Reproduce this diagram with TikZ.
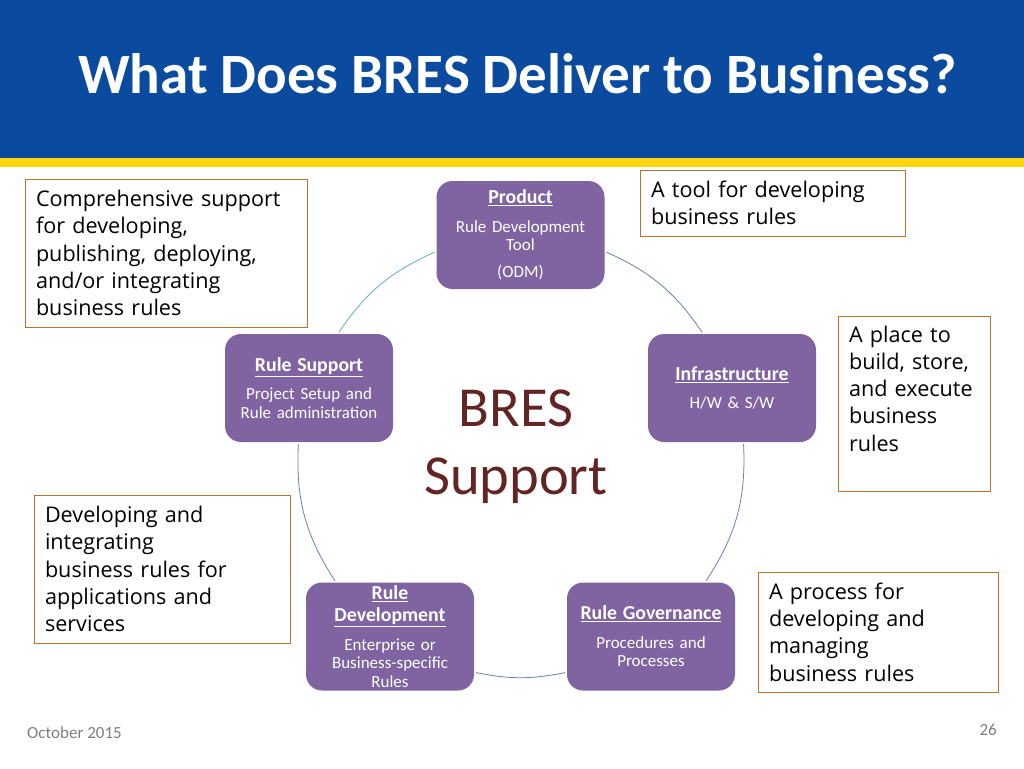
\documentclass[tikz,border=0pt]{standalone}
\usepackage{fontspec}
\setmainfont{Carlito}
\newfontfamily\notefont{Open Sans}
\definecolor{bandblue}{HTML}{0A4A9F}
\definecolor{bandyellow}{HTML}{FFD40F}
\definecolor{stagepurple}{HTML}{8064A2}
\definecolor{noteborder}{HTML}{B9722F}
\definecolor{supportred}{HTML}{632523}
\definecolor{arcblue}{HTML}{6A7FB0}
\definecolor{arcteal}{HTML}{5FAFBF}
\definecolor{footgray}{HTML}{7F7F7F}
\newcommand{\stagehead}[1]{{\fontsize{19.8}{22}\selectfont\bfseries\underline{#1}}}
\tikzset{
    stagebox/.style={rectangle, rounded corners=16pt, fill=stagepurple, text=white, align=center,
        minimum width=168pt, minimum height=108pt, text width=160pt, inner sep=0pt, outer sep=0pt,
        font=\fontsize{17}{18.5}\selectfont},
    notebox/.style={rectangle, draw=noteborder, line width=0.9pt, fill=white, anchor=north west, align=left,
        inner xsep=11pt, inner ysep=6pt, outer sep=0pt, font=\notefont\fontsize{21.6}{27.3}\selectfont},
    cyclearc/.style={arcblue, line width=0.8pt, shorten >=2pt, shorten <=2pt},
}
\begin{document}
\begin{tikzpicture}[x=1pt, y=-1pt]
    \useasboundingbox (0, 0) rectangle (1024, 768);
    % title band
    \fill [bandblue] (0, 0) rectangle (1024, 158);
    \fill [bandyellow] (0, 158) rectangle (1024, 167);
    \node (title) [anchor=base west, text=white, inner sep=0pt, font=\fontsize{57}{62}\selectfont\bfseries]
        at (78, 93) {What Does BRES Deliver to Business?};
    % stages
    \node (product) [stagebox] at (520.5, 235) {\stagehead{Product}\\[10pt] Rule Development\\ Tool\\[8.5pt] (ODM)};
    \node (infra) [stagebox] at (732, 388) {\stagehead{Infrastructure}\\[10pt] H/W \& S/W};
    \node (governance) [stagebox] at (651, 636.5) {\stagehead{Rule Governance}\\[10pt] Procedures and\\ Processes};
    \node (development) [stagebox] at (390, 636.5) {\stagehead{Rule}\\[3.5pt] \stagehead{Development}\\[10pt] Enterprise or\\ Business-specific\\ Rules};
    \node (rulesupport) [stagebox] at (309, 388) {\stagehead{Rule Support}\\[10pt] Project Setup and\\ Rule administration};
    \node (centre) [text=supportred, align=center, inner sep=0pt, font=\fontsize{56.5}{68}\selectfont] at (516, 447) {BRES\\ Support};
    % arcs round the centre
    \foreach \a/\b/\bend in {product.-11/infra.118/16, infra.-78.5/governance.45.5/18,
        governance.203.5/development.-23.5/11.6, development.135/rulesupport.-101.5/18} {
        \draw [cyclearc] (\a) to [bend left=\bend] (\b);
        }
    \draw [cyclearc, arcteal] (rulesupport.62.5) to [bend left=16] (product.191);
    % notes
    \node (notesupport) [notebox, text width=260pt, minimum height=148pt] at (25, 179)
        {Comprehensive support\\ for developing,\\ publishing, deploying,\\ and/or integrating\\ business rules};
    \node (notetool) [notebox, text width=243pt, minimum height=66pt] at (640, 170)
        {A tool for developing\\ business rules};
    \node (noteplace) [notebox, text width=130pt, text height=20pt, text depth=143pt] at (838, 316)
        {A place to\\ build, store,\\ and execute\\ business\\ rules};
    \node (notedev) [notebox, text width=234pt, minimum height=148pt] at (34, 495)
        {Developing and\\ integrating\\ business rules for\\ applications and\\ services};
    \node (noteprocess) [notebox, text width=218pt, minimum height=120pt] at (758, 572)
        {A process for\\ developing and\\ managing\\ business rules};
    % footer
    \node (footdate) [anchor=base west, text=footgray, inner sep=0pt, font=\fontsize{17}{20}\selectfont] at (27, 738) {October 2015};
    \node (footpage) [anchor=base east, text=footgray, inner sep=0pt, font=\fontsize{17}{20}\selectfont] at (997, 735) {26};
\end{tikzpicture}
\end{document}
